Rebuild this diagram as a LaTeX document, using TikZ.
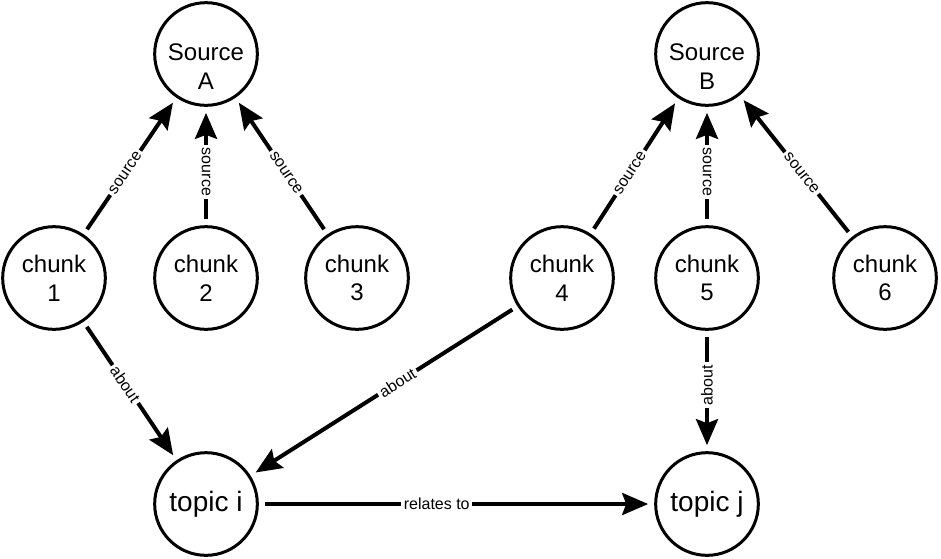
\documentclass[tikz,border=0pt]{standalone}
\usepackage{fontspec}
\setmainfont{Liberation Sans}
\usetikzlibrary{arrows.meta,positioning}
\tikzset{
  graphNode/.style={circle, draw, line width=2.25pt, minimum size=77pt, inner sep=0pt, align=center, font=\fontsize{18}{21.6}\selectfont},
  topicNode/.style={graphNode, font=\fontsize{21}{25}\selectfont},
  nodeText/.style={align=center, inner sep=0pt, font=\fontsize{18}{21.6}\selectfont},
  relArrow/.style={-{Stealth[length=19.5pt, width=16.5pt, inset=3pt]}, line width=3pt, shorten <=4.5pt, shorten >=4.5pt},
  relLabel/.style={fill=white, inner sep=2pt, font=\fontsize{12}{14}\selectfont, pos=0.45}
}

\begin{document}
\begin{tikzpicture}[x=0.75pt,y=-0.75pt]
  \useasboundingbox (0,0) rectangle (941,558);
  \node[graphNode] (srcA) at (206,54) {};
  \node[nodeText] (srcAText) at (206,66.5) {Source\\A};
  \node[graphNode] (srcB) at (707,54) {};
  \node[nodeText] (srcBText) at (707,66.5) {Source\\B};
  \node[graphNode] (chunkA) at (54,278) {chunk\\1};
  \node[graphNode] (chunkB) at (206,278) {chunk\\2};
  \node[graphNode] (chunkC) at (357,278) {chunk\\3};
  \node[graphNode] (chunkD) at (562,278) {chunk\\4};
  \node[graphNode] (chunkE) at (707,278) {chunk\\5};
  \node[graphNode] (chunkF) at (885,278) {chunk\\6};
  \node[topicNode] (topicI) at (206,504) {topic i};
  \node[topicNode] (topicJ) at (707,504) {topic j};
  \draw[relArrow] (chunkA) -- node[relLabel, sloped] {source} (srcA);
  \draw[relArrow] (chunkB) -- node[relLabel, rotate=-90] {source} (srcA);
  \draw[relArrow] (chunkC) -- node[relLabel, sloped] {source} (srcA);
  \draw[relArrow] (chunkD) -- node[relLabel, sloped] {source} (srcB);
  \draw[relArrow] (chunkE) -- node[relLabel, rotate=-90] {source} (srcB);
  \draw[relArrow] (chunkF) -- node[relLabel, sloped] {source} (srcB);
  \draw[relArrow] (chunkA) -- node[relLabel, sloped] {about} (topicI);
  \draw[relArrow] (chunkD) -- node[relLabel, sloped] {about} (topicI);
  \draw[relArrow] (chunkE) -- node[relLabel, rotate=90] {about} (topicJ);
  \draw[relArrow] (topicI) -- node[relLabel] {relates to} (topicJ);
\end{tikzpicture}
\end{document}
